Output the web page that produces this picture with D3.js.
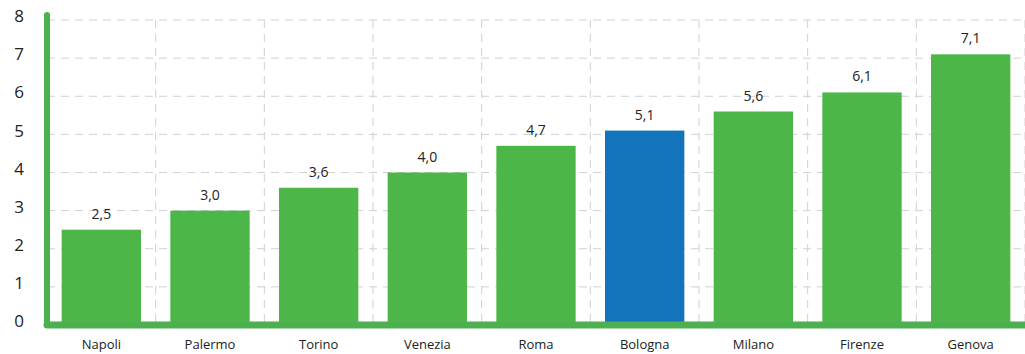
<!DOCTYPE html>
<html><head><meta charset="utf-8">
<script src="https://cdn.jsdelivr.net/npm/d3@7"></script>
<style>body{margin:0;background:#fff}svg{display:block}text{font-family:"Open Sans",sans-serif;fill:#222}</style>
</head><body><svg id="c" width="1025" height="354"></svg>
<script>
const categories = ["Napoli","Palermo","Torino","Venezia","Roma","Bologna","Milano","Firenze","Genova"];
const values = [2.5,3.0,3.6,4.0,4.7,5.1,5.6,6.1,7.1];
const highlight = ["Bologna"];
const yTicks = [0,1,2,3,4,5,6,7,8];

const svg = d3.select("#c");
const x0 = 47, x1 = 1025, yTop = 20, yBot = 325;
const x = d3.scaleBand().domain(categories).range([x0, x1]).paddingInner(0.27).paddingOuter(0.135);
const y = d3.scaleLinear().domain([0, 8]).range([yBot, yTop]);
const step = x.step();

// grid
const g = svg.append("g");
g.selectAll("line.h").data(yTicks.slice(1)).join("line")
  .attr("x1", x0).attr("x2", x1).attr("y1", d => y(d)).attr("y2", d => y(d))
  .attr("stroke", "#d0d0d0").attr("stroke-width", 1).attr("stroke-dasharray", "8,6");
g.selectAll("line.v").data(d3.range(1, categories.length + 1)).join("line")
  .attr("x1", i => x0 + i * step).attr("x2", i => x0 + i * step)
  .attr("y1", yTop).attr("y2", yBot)
  .attr("stroke", "#d0d0d0").attr("stroke-width", 1).attr("stroke-dasharray", "8,6");

// bars
svg.selectAll("rect.bar").data(categories).join("rect")
  .attr("x", d => x(d)).attr("width", x.bandwidth())
  .attr("y", (d, i) => y(values[i])).attr("height", (d, i) => y(0) - y(values[i]))
  .attr("fill", d => highlight.includes(d) ? "#1474bb" : "#4cb748");

// value labels
svg.selectAll("text.val").data(categories).join("text")
  .attr("x", d => x(d) + x.bandwidth() / 2)
  .attr("y", (d, i) => y(values[i]) - 11)
  .attr("text-anchor", "middle").attr("font-size", 14)
  .text((d, i) => d3.format(".1f")(values[i]).replace(".", ","));

// axes lines
svg.append("line").attr("x1", x0).attr("x2", x0).attr("y1", 15).attr("y2", yBot)
  .attr("stroke", "#4cb050").attr("stroke-width", 6).attr("stroke-linecap", "round");
svg.append("line").attr("x1", x0).attr("x2", x1 + 5).attr("y1", yBot).attr("y2", yBot)
  .attr("stroke", "#4cb050").attr("stroke-width", 7).attr("stroke-linecap", "round");

// y tick labels
const yAxis = d3.axisLeft(y).tickValues(yTicks).tickSize(0).tickFormat(d3.format("d"));
const ya = svg.append("g").attr("transform", `translate(24,0)`).call(yAxis);
ya.select(".domain").remove();
ya.selectAll("text").attr("font-size", 17).attr("font-family", '"Open Sans",sans-serif').attr("fill", "#222").attr("x", 0).attr("text-anchor", "end").attr("dy", "0.1em");

// x tick labels
const xAxis = d3.axisBottom(x).tickSize(0);
const xa = svg.append("g").attr("transform", `translate(0,${yBot})`).call(xAxis);
xa.select(".domain").remove();
xa.selectAll("text").attr("font-size", 13).attr("font-family", '"Open Sans",sans-serif').attr("fill", "#222").attr("dy", "1.65em");
</script></body></html>
